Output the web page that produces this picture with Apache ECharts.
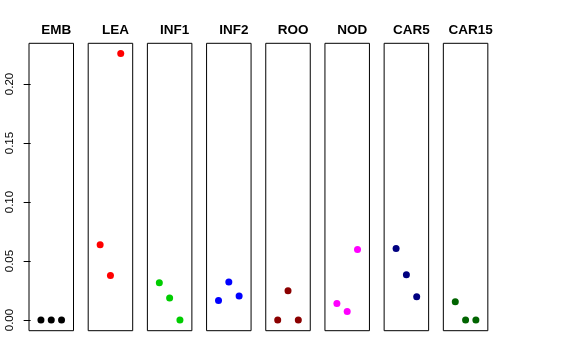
<!DOCTYPE html>
<html><head><meta charset="utf-8">
<script src="https://cdn.jsdelivr.net/npm/echarts@6/dist/echarts.min.js"></script>
<style>html,body{margin:0;padding:0;background:#fff}#c{width:576px;height:360px}</style>
</head><body><div id="c"></div>
<script>
const panels = ['EMB','LEA','INF1','INF2','ROO','NOD','CAR5','CAR15'];
const colors = ['#000000','#FF0000','#00CD00','#0000FF','#8B0000','#FF00FF','#000080','#006400'];
const positions = [1, 2, 3];
const EMB = [0, 0, 0];
const LEA = [0.0638, 0.0378, 0.2259];
const INF1 = [0.0316, 0.0186, 0];
const INF2 = [0.0166, 0.0322, 0.0203];
const ROO = [0, 0.0248, 0];
const NOD = [0.0141, 0.0073, 0.0598];
const CAR5 = [0.0607, 0.0384, 0.0197];
const CAR15 = [0.0155, 0, 0];
const yTicks = [0, 0.05, 0.10, 0.15, 0.20];
const values = [EMB, LEA, INF1, INF2, ROO, NOD, CAR5, CAR15];

const L0 = 29, PITCH = 59.19, W = 44.5, TOP = 43.3, H = 287.4;
const FONT = 'Liberation Sans, Arial, Helvetica, sans-serif';
const grid = [], xAxis = [], yAxis = [], series = [], title = [];
panels.forEach((name, i) => {
  const left = L0 + PITCH * i;
  grid.push({left: left, top: TOP, width: W, height: H, show: true, borderColor: '#000', borderWidth: 1, backgroundColor: 'transparent', containLabel: false});
  xAxis.push({type: 'value', gridIndex: i, min: -0.16, max: 4.16, show: false});
  yAxis.push({
    type: 'value', gridIndex: i, min: -0.009, max: 0.2345,
    show: i === 0,
    splitLine: {show: false},
    axisLine: {show: false},
    axisTick: {show: i === 0, length: 7, lineStyle: {color: '#000'}, customValues: yTicks},
    axisLabel: {show: i === 0, rotate: 90, margin: 13, fontSize: 11.5, color: '#000', fontFamily: FONT,
      customValues: yTicks, formatter: v => v.toFixed(2)}
  });
  series.push({
    type: 'scatter', xAxisIndex: i, yAxisIndex: i,
    data: positions.map((p, k) => [p, values[i][k]]),
    symbolSize: 7, itemStyle: {color: colors[i], opacity: 1},
    silent: true, animation: false
  });
  title.push({text: name, left: left + W / 2, textAlign: 'center', top: 18,
    textStyle: {fontSize: 13.5, fontWeight: 'bold', color: '#000', fontFamily: FONT}});
});
const chart = echarts.init(document.getElementById('c'), null, {renderer: 'canvas'});
chart.setOption({animation: false, backgroundColor: '#fff', title, grid, xAxis, yAxis, series});
</script></body></html>
